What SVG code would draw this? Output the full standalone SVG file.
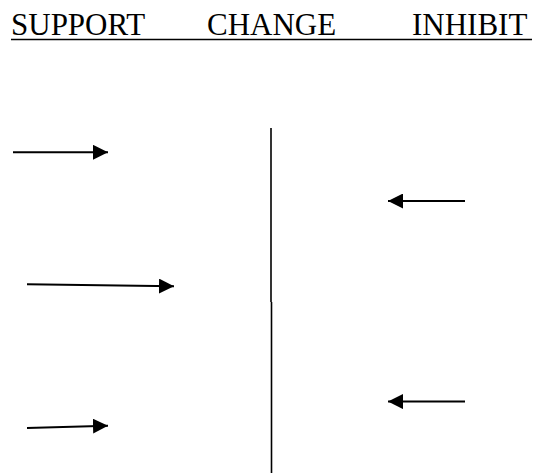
<svg xmlns="http://www.w3.org/2000/svg" width="534" height="473" viewBox="0 0 534 473">
  <defs>
    <marker id="head" viewBox="0 0 10 10" refX="10" refY="5" markerWidth="7.5" markerHeight="7.5" markerUnits="strokeWidth" orient="auto">
      <path d="M0,0 L10,5 L0,10 Z" fill="#000"/>
    </marker>
    <style>
      .title { font-family: "Liberation Serif", "Times New Roman", serif; font-size: 31px; fill: #000; }
      .arrow { stroke: #000; stroke-width: 2; fill: none; marker-end: url(#head); }
      .divider { stroke: #000; stroke-width: 1.6; }
    </style>
  </defs>

  <g id="header">
    <text class="title" x="11" y="35">SUPPORT</text>
    <text class="title" x="207" y="35">CHANGE</text>
    <text class="title" x="412" y="35">INHIBIT</text>
    <line x1="11" y1="39.5" x2="532" y2="39.5" stroke="#000" stroke-width="1.6"/>
  </g>

  <g id="divider">
    <line class="divider" x1="271" y1="128" x2="271" y2="302"/>
    <line class="divider" x1="271.5" y1="302" x2="271.5" y2="473"/>
  </g>

  <g id="connectors">
    <line class="arrow" x1="13" y1="152.3" x2="108" y2="152.3"/>
    <line class="arrow" x1="27" y1="284.3" x2="174" y2="286.3"/>
    <line class="arrow" x1="27" y1="428" x2="108" y2="425.7"/>
    <line class="arrow" x1="465" y1="201" x2="388" y2="201"/>
    <line class="arrow" x1="465" y1="401.6" x2="388" y2="401.6"/>
  </g>
</svg>
